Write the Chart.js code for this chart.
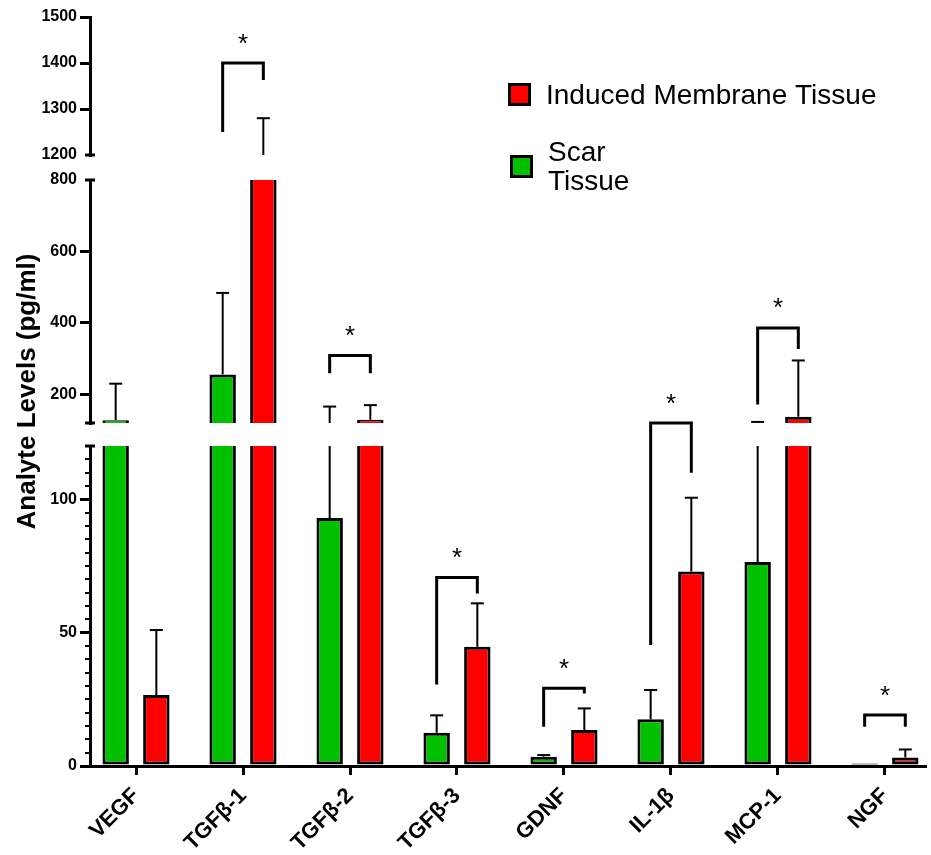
<!DOCTYPE html>
<html>
<head>
<meta charset="utf-8">
<script src="https://cdn.jsdelivr.net/npm/chart.js@4.4.0/dist/chart.umd.min.js"></script>
<style>
  body { margin: 0; background: #fff; }
</style>
</head>
<body>
<canvas id="chart" width="931" height="855"></canvas>
<script>
// values (pg/ml)
var categories   = ['VEGF', 'TGFβ-1', 'TGFβ-2', 'TGFβ-3', 'GDNF', 'IL-1β', 'MCP-1', 'NGF'];
var scarMean     = [128, 256, 93, 12.5, 3.5, 17.5, 76.5, 0.9];
var scarSd       = [102, 228, 73, 6.5, 0.6, 11, 46.5, 0];
var membraneMean = [26.6, 1000, 129, 44.7, 13.5, 72.9, 137.6, 3.2];
var membraneSd   = [24.4, 280, 41, 16.3, 8.1, 27.7, 157.4, 3.0];

// significance brackets: bar level, left leg end, right leg end
var sigTop   = [null, 1400, 309, 70.7, 29.2, 120, 386, 19.1];
var sigLeft  = [null, 1250, 259, 30.6, 14.7, 45.4, 172, 14.7];
var sigRight = [null, 1363, 259, 64.7, 27.2, 110, 327, 14.7];

// broken y axis ticks
var lowTicks  = [0, 50, 100];
var midTicks  = [200, 400, 600, 800];
var highTicks = [1200, 1300, 1400, 1500];

var FONT = '"Liberation Sans", Arial, sans-serif';
var GREEN = '#00C000';
var RED = '#FF0000';

var segs = [
  {id: 'yLow',  min: 0,    max: 120,  weight: 320, order: 1, ticks: lowTicks},
  {id: 'yMid',  min: 120,  max: 800,  weight: 243, order: 3, ticks: midTicks},
  {id: 'yHigh', min: 1200, max: 1500, weight: 138, order: 5, ticks: highTicks}
];

Chart.defaults.color = '#000';
Chart.defaults.font.family = FONT;

function yAxis(seg) {
  return {
    type: 'linear',
    position: 'left',
    stack: 'y',
    stackWeight: seg.weight,
    weight: seg.order,
    min: seg.min,
    max: seg.max,
    beginAtZero: false,
    stacked: false,
    grid: {
      drawOnChartArea: false,
      color: '#000',
      lineWidth: 3,
      tickLength: 10,
      tickColor: function (ctx) {
        var v = ctx.tick && ctx.tick.value;
        return (v === 800 || v === 1200) ? 'rgba(0,0,0,0)' : '#000';
      }
    },
    border: {color: '#000', width: 3},
    ticks: {
      padding: 3,
      color: '#000',
      font: {size: 16, weight: 'bold'},
      callback: function (v) { return String(v); }
    },
    afterBuildTicks: function (ax) {
      ax.ticks = seg.ticks.map(function (v) { return {value: v}; });
    },
    afterFit: function (ax) { ax.width = 50; }
  };
}

function gapAxis(w, order) {
  return {type: 'linear', position: 'left', stack: 'y', stackWeight: w, weight: order, display: false};
}

var datasets = [];
[['Scar Tissue', 'scar', scarMean, GREEN], ['Induced Membrane Tissue', 'membrane', membraneMean, RED]].forEach(function (s) {
  var means = s[2];
  segs.forEach(function (seg) {
    datasets.push({
      label: s[0],
      stack: s[1],
      yAxisID: seg.id,
      data: means.map(function (v) { return v > seg.min ? [seg.min, Math.min(v, seg.max)] : null; }),
      backgroundColor: s[3],
      borderColor: '#000',
      borderSkipped: false,
      borderWidth: function (ctx) {
        var v = means[ctx.dataIndex];
        return {left: 3, right: 3, top: v <= seg.max ? 3 : 0, bottom: seg.min === 0 ? 3 : 0};
      },
      categoryPercentage: 0.76,
      barPercentage: 0.65
    });
  });
});

function yPixel(chart, v) {
  for (var k = segs.length - 1; k >= 0; k--) {
    if (v >= segs[k].min && v <= segs[k].max) return chart.scales[segs[k].id].getPixelForValue(v);
  }
  return chart.scales.yLow.getPixelForValue(v);
}

function line(ctx, x1, y1, x2, y2) {
  ctx.beginPath();
  ctx.moveTo(x1, y1);
  ctx.lineTo(x2, y2);
  ctx.stroke();
}

var extras = {
  id: 'extras',
  afterDatasetsDraw: function (chart) {
    var ctx = chart.ctx;
    var area = chart.chartArea;
    ctx.save();
    ctx.strokeStyle = '#000';
    ctx.fillStyle = '#000';
    ctx.lineCap = 'butt';

    // minor ticks and break caps
    var low = chart.scales.yLow;
    var ax = low.right;
    ctx.lineWidth = 2;
    for (var v = 5; v < 120; v += 5) {
      if (v % 50 === 0) continue;
      var py = Math.round(low.getPixelForValue(v));
      line(ctx, ax - 5, py, ax, py);
    }
    ctx.lineWidth = 3;
    [['yLow', 120], ['yMid', 120], ['yMid', 800], ['yHigh', 1200]].forEach(function (c) {
      var py = Math.round(chart.scales[c[0]].getPixelForValue(c[1]));
      line(ctx, ax - 5, py, ax + 5, py);
    });

    // error bars
    ctx.lineWidth = 2;
    [[0, scarMean, scarSd], [3, membraneMean, membraneSd]].forEach(function (s) {
      var meta = chart.getDatasetMeta(s[0]);
      s[1].forEach(function (mean, i) {
        var sd = s[2][i];
        if (!sd) return;
        var x = meta.data[i].x;
        var top = mean + sd;
        segs.forEach(function (seg) {
          var a = Math.max(mean, seg.min), b = Math.min(top, seg.max);
          if (a > b) return;
          var sc = chart.scales[seg.id];
          line(ctx, x, sc.getPixelForValue(a), x, sc.getPixelForValue(b));
          if (top <= seg.max) {
            var cy = sc.getPixelForValue(top);
            line(ctx, x - 6.5, cy, x + 6.5, cy);
          }
        });
      });
    });

    // significance brackets
    var left = chart.getDatasetMeta(0), right = chart.getDatasetMeta(3);
    ctx.lineWidth = 3;
    ctx.lineJoin = 'miter';
    ctx.font = '26px ' + FONT;
    ctx.textAlign = 'center';
    ctx.textBaseline = 'alphabetic';
    sigTop.forEach(function (lvl, i) {
      if (lvl === null) return;
      var xl = left.data[i].x, xr = right.data[i].x;
      var yt = yPixel(chart, lvl);
      ctx.beginPath();
      ctx.moveTo(xl, yPixel(chart, sigLeft[i]));
      ctx.lineTo(xl, yt);
      ctx.lineTo(xr, yt);
      ctx.lineTo(xr, yPixel(chart, sigRight[i]));
      ctx.stroke();
      ctx.fillText('*', (xl + xr) / 2, yt - 25 + 13.5);
    });

    // y axis title
    ctx.save();
    ctx.translate(35, (area.top + area.bottom) / 2);
    ctx.rotate(-Math.PI / 2);
    ctx.font = 'bold 26px ' + FONT;
    ctx.textAlign = 'center';
    ctx.fillText('Analyte Levels (pg/ml)', 0, 0);
    ctx.restore();

    // legend
    ctx.textAlign = 'left';
    ctx.font = '28px ' + FONT;
    ctx.fillStyle = '#000';
    ctx.fillRect(508, 83, 23, 23);
    ctx.fillStyle = RED;
    ctx.fillRect(511, 86, 17, 17);
    ctx.fillStyle = '#000';
    ctx.fillText('Induced Membrane Tissue', 546, 104);
    ctx.fillRect(510, 155, 23, 23);
    ctx.fillStyle = GREEN;
    ctx.fillRect(513, 158, 17, 17);
    ctx.fillStyle = '#000';
    ctx.fillText('Scar', 548, 161);
    ctx.fillText('Tissue', 548, 190);
    ctx.restore();
  }
};

var scales = {
  x: {
    type: 'linear',
    min: -0.43,
    max: 7.374,
    offset: false,
    grid: {offset: false, drawOnChartArea: false, color: '#000', lineWidth: 3, tickLength: 9},
    border: {color: '#000', width: 3},
    ticks: {
      autoSkip: false,
      minRotation: 45,
      maxRotation: 45,
      padding: 8,
      color: '#000',
      font: {size: 22, weight: 'bold'},
      callback: function (v) { return categories[v]; }
    },
    afterBuildTicks: function (ax) {
      ax.ticks = categories.map(function (c, i) { return {value: i}; });
    },
    afterFit: function (ax) { ax.height = 89; }
  },
  yLow: yAxis(segs[0]),
  gap1: gapAxis(23, 2),
  yMid: yAxis(segs[1]),
  gap2: gapAxis(25, 4),
  yHigh: yAxis(segs[2])
};

new Chart(document.getElementById('chart').getContext('2d'), {
  type: 'bar',
  data: {
    labels: categories.map(function (c, i) { return i; }),
    datasets: datasets
  },
  options: {
    responsive: false,
    animation: false,
    layout: {padding: {left: 40, top: 17, right: 6, bottom: 0}},
    plugins: {legend: {display: false}, tooltip: {enabled: false}},
    scales: scales
  },
  plugins: [extras]
});
</script>
</body>
</html>
